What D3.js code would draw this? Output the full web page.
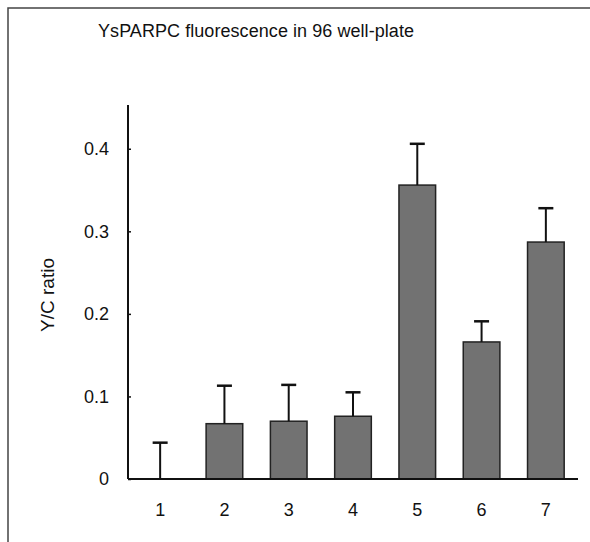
<!DOCTYPE html>
<html>
<head>
<meta charset="utf-8">
<script src="https://cdn.jsdelivr.net/npm/d3@7"></script>
<style>
  body { margin: 0; background: #fff; }
  svg text { font-family: "Liberation Sans", Arial, sans-serif; fill: #111; }
</style>
</head>
<body>
<div id="chart"></div>
<script>
// Data
const categories = ["1", "2", "3", "4", "5", "6", "7"];
const ratios = [0.0, 0.067, 0.070, 0.076, 0.356, 0.166, 0.287];
const errors = [0.044, 0.046, 0.044, 0.029, 0.050, 0.025, 0.041];
const yTicks = [0, 0.1, 0.2, 0.3, 0.4];

const width = 590, height = 542;
const margin = { left: 128, right: 12, top: 105, bottom: 63 };

const svg = d3.select("#chart").append("svg")
    .attr("width", width)
    .attr("height", height);

svg.append("rect")
    .attr("width", width)
    .attr("height", height)
    .attr("fill", "#fff");

// Outer frame (top and left only, cut at right/bottom)
svg.append("path")
    .attr("d", `M8,${height} L8,8 L${width},8`)
    .attr("fill", "none")
    .attr("stroke", "#444")
    .attr("stroke-width", 1.5);

const x = d3.scaleBand()
    .domain(categories)
    .range([margin.left, width - margin.right])
    .paddingInner(0.43)
    .paddingOuter(0.215);

const y = d3.scaleLinear()
    .domain([0, 0.453])
    .range([height - margin.bottom, margin.top]);

// Title
svg.append("text")
    .attr("x", 256)
    .attr("y", 37)
    .attr("text-anchor", "middle")
    .attr("font-size", 18)
    .attr("textLength", 316)
    .text("YsPARPC fluorescence in 96 well-plate");

// Bars
svg.append("g")
    .selectAll("rect")
    .data(ratios)
    .join("rect")
    .attr("x", (d, i) => x(categories[i]))
    .attr("y", d => y(d))
    .attr("width", x.bandwidth())
    .attr("height", d => y(0) - y(d))
    .attr("fill", "#727272")
    .attr("stroke", "#222")
    .attr("stroke-width", 1.5);

// Error bars
const err = svg.append("g")
    .attr("stroke", "#111")
    .attr("stroke-width", 2);

err.selectAll("line.stem")
    .data(ratios)
    .join("line")
    .attr("class", "stem")
    .attr("x1", (d, i) => x(categories[i]) + x.bandwidth() / 2)
    .attr("x2", (d, i) => x(categories[i]) + x.bandwidth() / 2)
    .attr("y1", d => y(d))
    .attr("y2", (d, i) => y(d + errors[i]));

err.selectAll("line.cap")
    .data(ratios)
    .join("line")
    .attr("class", "cap")
    .attr("x1", (d, i) => x(categories[i]) + x.bandwidth() / 2 - 7.5)
    .attr("x2", (d, i) => x(categories[i]) + x.bandwidth() / 2 + 7.5)
    .attr("y1", (d, i) => y(d + errors[i]))
    .attr("y2", (d, i) => y(d + errors[i]))
    .attr("stroke-width", 2.5);

// Y axis with small inward ticks
const yAxis = svg.append("g")
    .attr("transform", `translate(${margin.left},0)`)
    .call(d3.axisRight(y).tickValues(yTicks).tickSize(3).tickFormat(d => d === 0 ? "0" : d3.format(".1f")(d)));
yAxis.select(".domain").remove();
yAxis.selectAll(".tick line").attr("stroke", "#111").attr("stroke-width", 1.5);
yAxis.selectAll(".tick text")
    .attr("x", -19)
    .attr("text-anchor", "end")
    .attr("font-size", 18)
    .attr("fill", "#111");

svg.append("line")
    .attr("x1", margin.left).attr("x2", margin.left)
    .attr("y1", y(0)).attr("y2", margin.top)
    .attr("stroke", "#111").attr("stroke-width", 2);

// X axis
const xAxis = svg.append("g")
    .attr("transform", `translate(0,${y(0)})`)
    .call(d3.axisBottom(x).tickSize(0).tickPadding(24));
xAxis.select(".domain")
    .attr("stroke", "#111").attr("stroke-width", 2)
    .attr("d", `M${margin.left},0H${width - margin.right}`);
xAxis.selectAll(".tick text")
    .attr("font-size", 18)
    .attr("fill", "#111");

// Y axis label
svg.append("text")
    .attr("transform", `translate(54,295) rotate(-90)`)
    .attr("text-anchor", "middle")
    .attr("font-size", 19)
    .text("Y/C ratio");
</script>
</body>
</html>
